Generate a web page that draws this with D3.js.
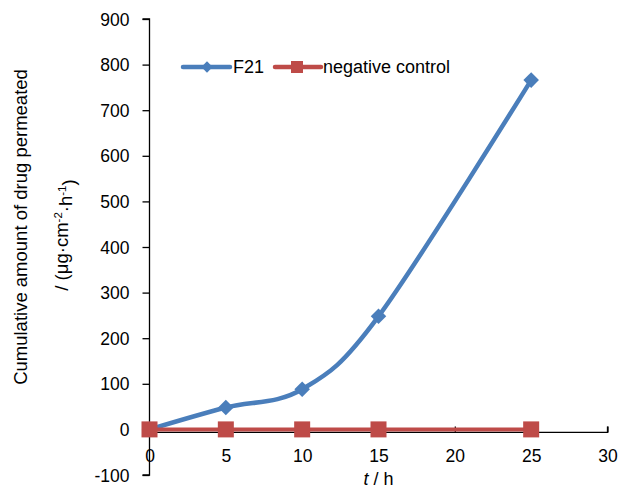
<!DOCTYPE html>
<html><head><meta charset="utf-8">
<script src="https://cdn.jsdelivr.net/npm/d3@7"></script>
<style>body{margin:0;background:#fff;} text{font-family:"Liberation Sans",Arial,sans-serif;fill:#000;}</style>
</head><body>
<svg id="c" width="621" height="489"></svg>
<script>
const times = [0, 5, 10, 15, 25];
const f21 = [0, 48, 88, 248, 766];
const negControl = [0, 0, 0, 0, 0];
const xTicks = [0, 5, 10, 15, 20, 25, 30];
const yTicks = [-100, 0, 100, 200, 300, 400, 500, 600, 700, 800, 900];
const seriesNames = ["F21", "negative control"];

const svg = d3.select("#c");
const x = d3.scaleLinear().domain([0, 30]).range([149.5, 607.5]);
const y = d3.scaleLinear().domain([-100, 900]).range([475, 19]);
const blue = "#4a7ebb", red = "#be4b48";

// y axis
const yAx = svg.append("g").attr("transform", `translate(${x(0)},0)`)
  .call(d3.axisLeft(y).tickValues(yTicks).tickFormat(d => String(d)).tickSize(7).tickPadding(13));
yAx.select(".domain").attr("stroke", "#000").attr("stroke-width", 1.3).attr("d", `M-7,${y(900)}H0V${y(-100)}H-7`);
yAx.selectAll(".tick line").attr("stroke", "#000").attr("stroke-width", 1.3);
yAx.selectAll(".tick text").style("font-size", "17.5px").style("font-family", "'Liberation Sans', Arial").attr("dy", "0.35em");

// x axis at y=0, ticks inside
const xAx = svg.append("g").attr("transform", `translate(0,${y(0) + 3})`)
  .call(d3.axisBottom(x).tickValues(xTicks).tickFormat(d => String(d)).tickSize(-6).tickPadding(0));
xAx.select(".domain").attr("stroke", "#000").attr("stroke-width", 1.3).attr("d", `M${x(0)},0H${x(30)}V-6`);
xAx.selectAll(".tick line").attr("stroke", "#000").attr("stroke-width", 1.3);
xAx.selectAll(".tick text").style("font-size", "17.5px").style("font-family", "'Liberation Sans', Arial").attr("y", 30).attr("dy", 0);

// axis titles
const xt = svg.append("text").attr("x", x(0) + 229).attr("y", 485).attr("text-anchor", "middle").style("font-size", "18px");
xt.append("tspan").style("font-style", "italic").text("t");
xt.append("tspan").text(" / h");

svg.append("text").attr("transform", "translate(27,227) rotate(-90)").attr("text-anchor", "middle")
  .style("font-size", "18.5px").text("Cumulative amount of drug permeated");
const yt2 = svg.append("text").attr("transform", "translate(68,235) rotate(-90)").attr("text-anchor", "middle").style("font-size", "18.5px");
yt2.append("tspan").text("/ (μg·cm");
yt2.append("tspan").attr("dy", "-0.5em").style("font-size", "11.5px").text("-2");
yt2.append("tspan").attr("dy", "0.5em").text("·h");
yt2.append("tspan").attr("dy", "-0.5em").style("font-size", "11.5px").text("-1");
yt2.append("tspan").attr("dy", "0.5em").text(")");

// lines
const blueData = times.map((t, i) => [t, f21[i]]);
const redData = times.map((t, i) => [t, negControl[i]]);
const smooth = d3.line().x(d => x(d[0])).y(d => y(d[1])).curve(d3.curveCardinal.tension(0));
const straight = d3.line().x(d => x(d[0])).y(d => y(d[1]));

svg.append("path").datum(blueData).attr("fill", "none").attr("stroke", blue).attr("stroke-width", 4.5)
  .attr("stroke-linejoin", "round").attr("d", smooth);
svg.selectAll(".dia").data(blueData).enter().append("rect").attr("class", "dia")
  .attr("x", -5.5).attr("y", -5.5).attr("width", 11).attr("height", 11).attr("fill", blue)
  .attr("transform", d => `translate(${x(d[0])},${y(d[1])}) rotate(45)`);

svg.append("path").datum(redData).attr("fill", "none").attr("stroke", red).attr("stroke-width", 4)
  .attr("d", straight);
svg.selectAll(".sq").data(redData).enter().append("rect").attr("class", "sq")
  .attr("x", d => x(d[0]) - 8).attr("y", d => y(d[1]) - 8).attr("width", 16).attr("height", 16).attr("fill", red);

// legend
const leg = svg.append("g");
leg.append("line").attr("x1", 183).attr("x2", 230).attr("y1", 67).attr("y2", 67).attr("stroke", blue).attr("stroke-width", 4.5).attr("stroke-linecap", "round");
leg.append("rect").attr("x", -4).attr("y", -4).attr("width", 8).attr("height", 8).attr("fill", blue).attr("transform", "translate(207,67) rotate(45)");
leg.append("text").attr("x", 233).attr("y", 67).attr("dy", "0.35em").style("font-size", "18px").text(seriesNames[0]);
leg.append("line").attr("x1", 275).attr("x2", 321).attr("y1", 67).attr("y2", 67).attr("stroke", red).attr("stroke-width", 4.5).attr("stroke-linecap", "round");
leg.append("rect").attr("x", 291).attr("y", 61).attr("width", 12).attr("height", 12).attr("fill", red);
leg.append("text").attr("x", 323).attr("y", 67).attr("dy", "0.35em").style("font-size", "18px").text(seriesNames[1]);
</script>
</body></html>
